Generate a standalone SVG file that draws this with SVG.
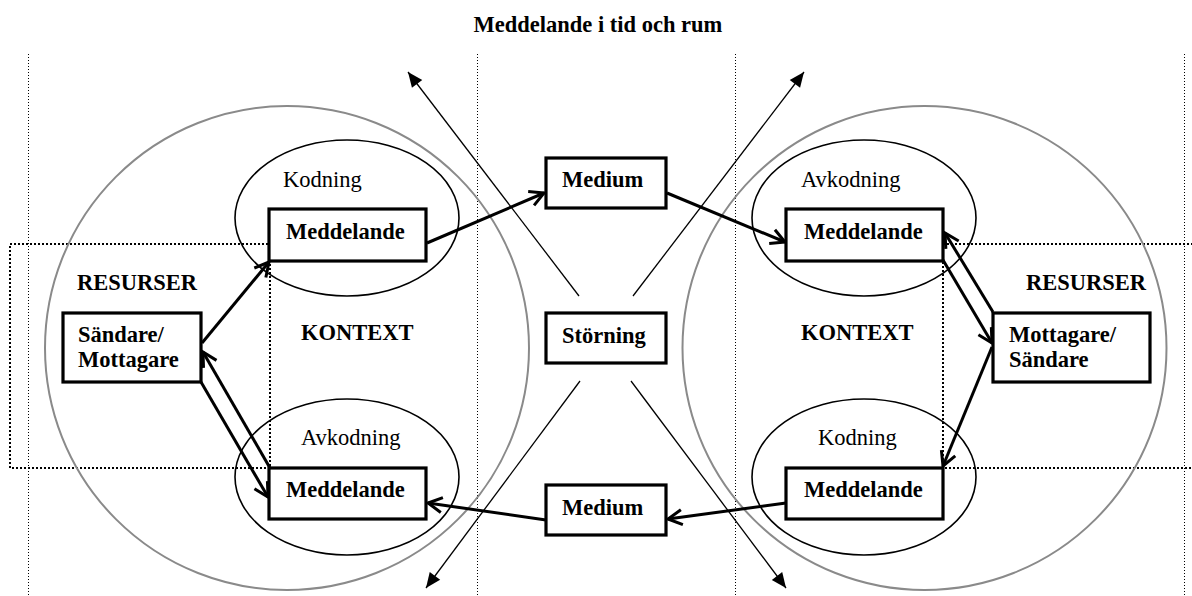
<svg xmlns="http://www.w3.org/2000/svg" width="1192" height="596" viewBox="0 0 1192 596">
  <defs>
    <style>
      text { font-family: "Liberation Serif", "Times New Roman", serif; font-size: 22.5px; fill: #000; }
      .b { font-weight: bold; }
      .grid { stroke: #000; stroke-width: 1; stroke-dasharray: 1 2; fill: none; shape-rendering: crispEdges; }
      .zone { stroke: #000; stroke-width: 2; stroke-dasharray: 2 2; fill: none; shape-rendering: crispEdges; }
      .world { stroke: #8a8a8a; stroke-width: 2; fill: none; }
      .code { stroke: #000; stroke-width: 1.6; fill: none; }
      .box rect { fill: #fff; stroke: #000; stroke-width: 3.2; }
      .flow { stroke: #000; stroke-width: 3; fill: none; marker-end: url(#chev); }
      .noise { stroke: #000; stroke-width: 1.3; fill: none; marker-end: url(#tri); }
    </style>
    <marker id="chev" markerUnits="userSpaceOnUse" markerWidth="24" markerHeight="24" viewBox="-18 -12 24 24" refX="0" refY="0" orient="auto">
      <path d="M-14,-7.5 L0,0 L-14,7.5" fill="none" stroke="#000" stroke-width="3"/>
    </marker>
    <marker id="tri" markerUnits="userSpaceOnUse" markerWidth="24" markerHeight="24" viewBox="-18 -12 24 24" refX="0" refY="0" orient="auto">
      <path d="M-15,-6.5 L0,0 L-15,6.5 Z" fill="#000"/>
    </marker>
  </defs>

  <rect width="1192" height="596" fill="#fff"/>

  <text class="b" x="598" y="32" text-anchor="middle">Meddelande i tid och rum</text>

  <!-- time/space columns -->
  <g id="columns">
    <line class="grid" x1="28.5" y1="54" x2="28.5" y2="596"/>
    <line class="grid" x1="477.5" y1="54" x2="477.5" y2="596"/>
    <line class="grid" x1="735.5" y1="54" x2="735.5" y2="596"/>
    <line class="grid" x1="1184.5" y1="54" x2="1184.5" y2="596"/>
  </g>

  <!-- resource zones -->
  <g id="resurser-zones">
    <rect class="zone" x="10" y="244" width="260" height="224"/>
    <rect class="zone" x="943" y="244" width="270" height="224"/>
    <text class="b" x="77" y="290">RESURSER</text>
    <text class="b" x="1026" y="290">RESURSER</text>
  </g>

  <!-- context circles -->
  <g id="kontext-left">
    <circle class="world" cx="287" cy="348" r="242"/>
    <text class="b" x="301" y="340">KONTEXT</text>
  </g>
  <g id="kontext-right">
    <circle class="world" cx="924.5" cy="348" r="242"/>
    <text class="b" x="801" y="340">KONTEXT</text>
  </g>

  <!-- coding / decoding ellipses -->
  <g id="kodning-left">
    <ellipse class="code" cx="347" cy="218" rx="112" ry="78"/>
    <text x="283" y="187">Kodning</text>
  </g>
  <g id="avkodning-left">
    <ellipse class="code" cx="347" cy="477" rx="112" ry="78"/>
    <text x="301" y="445">Avkodning</text>
  </g>
  <g id="avkodning-right">
    <ellipse class="code" cx="864" cy="218" rx="112" ry="78"/>
    <text x="801" y="187">Avkodning</text>
  </g>
  <g id="kodning-right">
    <ellipse class="code" cx="864" cy="477" rx="112" ry="78"/>
    <text x="818" y="445">Kodning</text>
  </g>

  <!-- connectors -->
  <g id="connectors">
    <line class="flow" x1="427" y1="243" x2="544" y2="193"/>
    <line class="flow" x1="667" y1="193" x2="785" y2="242"/>
    <line class="flow" x1="202" y1="343" x2="269" y2="262"/>
    <line class="flow" x1="270" y1="468" x2="203" y2="352"/>
    <line class="flow" x1="201" y1="382" x2="268" y2="497"/>
    <line class="flow" x1="546" y1="520" x2="428" y2="503"/>
    <line class="flow" x1="786" y1="503" x2="668" y2="519"/>
    <line class="flow" x1="993" y1="312" x2="945" y2="233"/>
    <line class="flow" x1="943" y1="260" x2="992" y2="343"/>
    <line class="flow" x1="992" y1="347" x2="943" y2="466"/>
    <line class="noise" x1="579" y1="296" x2="408" y2="72"/>
    <line class="noise" x1="633" y1="296" x2="804" y2="72"/>
    <line class="noise" x1="580" y1="381" x2="426" y2="588"/>
    <line class="noise" x1="631" y1="381" x2="786" y2="588"/>
  </g>

  <!-- nodes -->
  <g id="sandare-mottagare" class="box">
    <rect x="63" y="313" width="138" height="69"/>
    <text class="b" x="78" y="342">Sändare/</text>
    <text class="b" x="78" y="367">Mottagare</text>
  </g>
  <g id="meddelande-tl" class="box">
    <rect x="269" y="209" width="157" height="52"/>
    <text class="b" x="286" y="239">Meddelande</text>
  </g>
  <g id="meddelande-bl" class="box">
    <rect x="269" y="468" width="157" height="51"/>
    <text class="b" x="286" y="497">Meddelande</text>
  </g>
  <g id="medium-top" class="box">
    <rect x="546" y="158" width="120" height="50"/>
    <text class="b" x="562" y="187">Medium</text>
  </g>
  <g id="storning" class="box">
    <rect x="546" y="313" width="120" height="50"/>
    <text class="b" x="562" y="343">Störning</text>
  </g>
  <g id="medium-bottom" class="box">
    <rect x="546" y="485" width="120" height="50"/>
    <text class="b" x="562" y="515">Medium</text>
  </g>
  <g id="meddelande-tr" class="box">
    <rect x="786" y="209" width="157" height="52"/>
    <text class="b" x="804" y="239">Meddelande</text>
  </g>
  <g id="meddelande-br" class="box">
    <rect x="786" y="468" width="157" height="51"/>
    <text class="b" x="804" y="497">Meddelande</text>
  </g>
  <g id="mottagare-sandare" class="box">
    <rect x="993" y="313" width="157" height="69"/>
    <text class="b" x="1009" y="342">Mottagare/</text>
    <text class="b" x="1009" y="367">Sändare</text>
  </g>
</svg>
